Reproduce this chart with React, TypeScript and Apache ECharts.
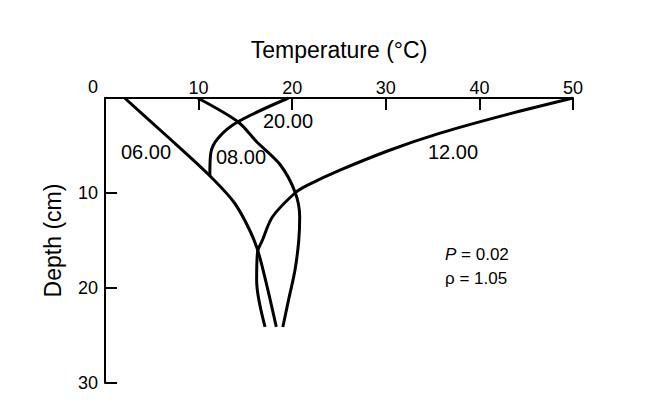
import React, { useEffect, useRef } from "react";
import * as echarts from "echarts";

// Temperature profiles: [temperature °C, depth cm]
const profile0600: [number, number][] = [
  [2.1, 0], [6.6, 4], [11.0, 8], [13.8, 11], [15.5, 14], [16.4, 16.3], [17.4, 20.2], [18.3, 24.1],
];
const profile0800: [number, number][] = [
  [19.6, 0], [14.2, 2.5], [12.1, 4.2], [11.3, 5.8], [11.2, 8.2],
];
const profile1200: [number, number][] = [
  [50, 0], [42.7, 1.8], [35.8, 3.7], [30.4, 5.5], [25.1, 7.6], [21.6, 9.2], [20.3, 10],
  [17.9, 12.5], [16.8, 15], [16.3, 16.2], [16.2, 19.2], [17.1, 24.1],
];
const profile2000: [number, number][] = [
  [9.9, 0], [14.2, 2.5], [16.2, 4.6], [18.7, 7], [20.3, 9.9], [20.8, 12.5], [20.7, 15],
  [20.3, 18.1], [19.6, 21.3], [19.0, 24.1],
];
const seriesNames = ["06.00", "08.00", "12.00", "20.00"];
const paramP = "0.02";
const paramRho = "1.05";

const FONT = "'Liberation Sans', Arial, Helvetica, sans-serif";

export default function App() {
  const ref = useRef<HTMLDivElement>(null);
  useEffect(() => {
    const chart = echarts.init(ref.current!, null, { renderer: "svg" });
    const mk = (name: string, data: [number, number][]) => ({
      type: "line",
      name,
      data,
      smooth: 0.3,
      showSymbol: false,
      symbol: "none",
      lineStyle: { color: "#000", width: 3 },
      itemStyle: { color: "#000" },
      z: 3,
    });
    const txt = (text: string, x: number, y: number, size: number, align = "center") => ({
      type: "text",
      x,
      y,
      style: {
        text,
        fill: "#000",
        font: `${size}px ${FONT}`,
        align,
        verticalAlign: "middle",
      },
      z: 10,
    });
    chart.setOption({
      animation: false,
      backgroundColor: "#fff",
      grid: { left: 105, right: 83, top: 98, bottom: 36, containLabel: false },
      xAxis: {
        type: "value",
        position: "top",
        min: 0,
        max: 50,
        interval: 10,
        name: "Temperature (°C)",
        nameLocation: "middle",
        nameGap: 37,
        nameTextStyle: { color: "#000", fontSize: 23, fontFamily: FONT },
        axisLine: { show: true, lineStyle: { color: "#000", width: 2 } },
        axisTick: { show: true, inside: true, length: 12, lineStyle: { color: "#000", width: 2 } },
        axisLabel: { showMinLabel: false, color: "#000", fontSize: 18, fontFamily: FONT, margin: 1 },
        splitLine: { show: false },
      },
      yAxis: {
        type: "value",
        inverse: true,
        min: 0,
        max: 30,
        interval: 10,
        name: "Depth (cm)",
        nameLocation: "middle",
        nameGap: 41,
        nameRotate: 90,
        nameTextStyle: { color: "#000", fontSize: 23, fontFamily: FONT },
        axisLine: { show: true, lineStyle: { color: "#000", width: 2 } },
        axisTick: { show: true, inside: true, length: 12, lineStyle: { color: "#000", width: 2 } },
        axisLabel: { showMinLabel: false, color: "#000", fontSize: 18, fontFamily: FONT, margin: 7 },
        splitLine: { show: false },
      },
      series: [
        mk(seriesNames[0], profile0600),
        mk(seriesNames[1], profile0800),
        mk(seriesNames[2], profile1200),
        mk(seriesNames[3], profile2000),
      ],
      graphic: [
        txt("0", 93, 87, 18),
        txt(seriesNames[0], 146, 152, 20),
        txt(seriesNames[1], 241, 157, 20),
        txt(seriesNames[2], 453, 152, 20),
        txt(seriesNames[3], 288, 121, 20),
        {
          type: "text",
          x: 445,
          y: 254,
          style: {
            text: "{i|P} = " + paramP,
            fill: "#000",
            font: `17px ${FONT}`,
            verticalAlign: "middle",
            rich: { i: { fontStyle: "italic", fontSize: 17, fontFamily: FONT } },
          },
          z: 10,
        },
        txt("ρ = " + paramRho, 445, 278, 17, "left"),
      ],
    });
    return () => chart.dispose();
  }, []);
  return (
    <div
      ref={ref}
      style={{ position: "fixed", left: 0, top: 0, width: 656, height: 419 }}
    />
  );
}
